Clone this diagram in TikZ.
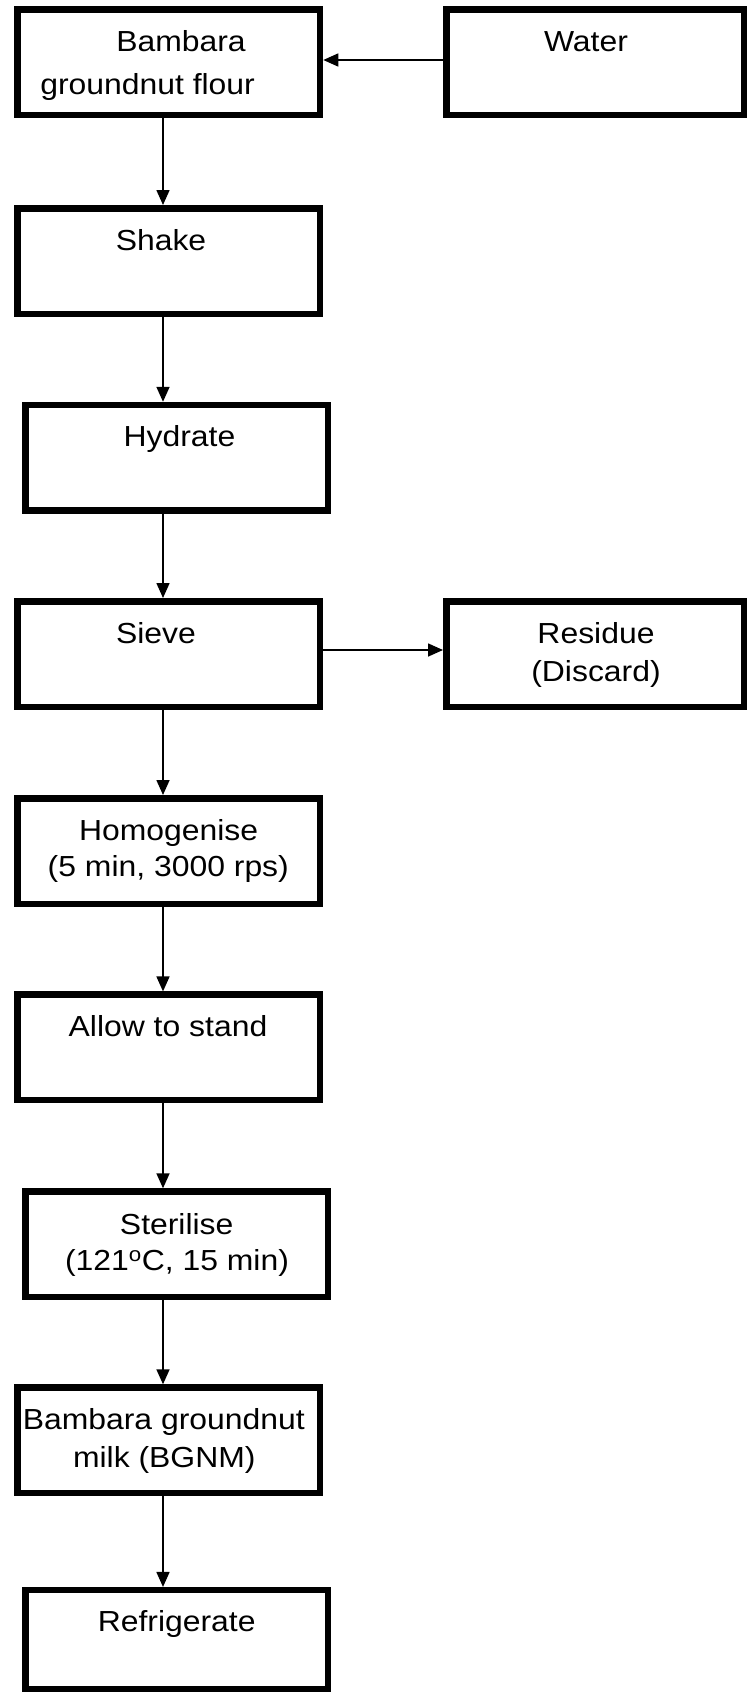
\documentclass[tikz,border=0pt]{standalone}
\usepackage{fontspec}
\setmainfont{Liberation Sans}[FakeStretch=1.1]
\usetikzlibrary{arrows.meta}
\tikzset{
  stepbox/.style={draw, line width=6.5pt, inner sep=0pt, fill=white,
                  minimum width=302.5pt, minimum height=105.5pt},
  flow/.style={line width=1.6pt, -{Triangle[length=15pt,width=13pt]}},
  lbl/.style={anchor=base, inner sep=0pt, font=\fontsize{29}{35}\selectfont},
}
\begin{document}
\begin{tikzpicture}[x=1pt, y=-1pt]
  \useasboundingbox (0,0) rectangle (747,1692);
  \fill[white] (0,0) rectangle (747,1692);

  % process boxes
  \node[stepbox] (flour)   at (168.8,62)     {};
  \node[stepbox, minimum width=297.5pt] (water) at (595,62) {};
  \node[stepbox] (shake)   at (168.8,261)    {};
  \node[stepbox] (hydrate) at (176.5,457.8)  {};
  \node[stepbox] (sieve)   at (168.8,654)    {};
  \node[stepbox, minimum width=297.5pt] (residue) at (595,654) {};
  \node[stepbox] (homog)   at (168.8,851)    {};
  \node[stepbox] (stand)   at (168.8,1047.4) {};
  \node[stepbox] (steril)  at (176.5,1244.3) {};
  \node[stepbox] (bgnm)    at (168.8,1440.3) {};
  \node[stepbox, minimum height=98.6pt] (refrig) at (176.5,1639.5) {};

  % labels
  \node[lbl] (t-flour1)  at (181,51.7)    {Bambara};
  \node[lbl] (t-flour2)  at (147.6,94.3)  {groundnut flour};
  \node[lbl] (t-water)   at (586,51.7)    {Water};
  \node[lbl] (t-shake)   at (161,250.7)   {Shake};
  \node[lbl] (t-hydrate) at (179.5,446.7) {Hydrate};
  \node[lbl] (t-sieve)   at (156,643.3)   {Sieve};
  \node[lbl] (t-res1)    at (596,643.3)   {Residue};
  \node[lbl] (t-res2)    at (596,681)     {(Discard)};
  \node[lbl] (t-homog1)  at (168.6,840)   {Homogenise};
  \node[lbl] (t-homog2)  at (168.3,876.7) {(5 min, 3000 rps)};
  \node[lbl] (t-stand)   at (168,1036)    {Allow to stand};
  \node[lbl] (t-ster1)   at (176.7,1234)  {Sterilise};
  \node[lbl] (t-ster2)   at (177,1270.3)  {(121\textsuperscript{o}C, 15 min)};
  \node[lbl] (t-bgnm1)   at (163.8,1429.8){Bambara groundnut};
  \node[lbl] (t-bgnm2)   at (164.3,1467.1){milk (BGNM)};
  \node[lbl] (t-refrig)  at (176.7,1631.7){Refrigerate};

  % main flow line
  \coordinate (axis) at (163,0);
  \foreach \a/\b in {flour/shake, shake/hydrate, hydrate/sieve, sieve/homog,
                     homog/stand, stand/steril, steril/bgnm, bgnm/refrig}
    \draw[flow] (\a.south -| axis) -- (\b.north -| axis);

  % side streams
  \coordinate (inlet) at (0,60);
  \coordinate (outlet) at (0,650);
  \draw[flow] (water.west |- inlet) -- (flour.east |- inlet);
  \draw[flow] (sieve.east |- outlet) -- (residue.west |- outlet);
\end{tikzpicture}
\end{document}
